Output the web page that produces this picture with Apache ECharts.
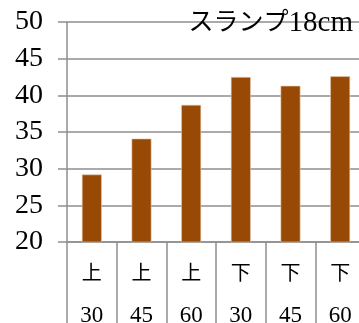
<!DOCTYPE html>
<html>
<head>
<meta charset="utf-8">
<script src="https://cdn.jsdelivr.net/npm/echarts@6/dist/echarts.min.js"></script>
<style>
  html, body { margin: 0; padding: 0; background: #fff; }
  #chart { width: 359px; height: 323px; }
</style>
</head>
<body>
<div id="chart"></div>
<script>
// Slump 18 cm: strength by position (上/下) and age
const positions = ['上', '上', '上', '下', '下', '下'];
const ages = ['30', '45', '60', '30', '45', '60'];
const values = [29.2, 34.1, 38.7, 42.5, 41.3, 42.6];
const yTicks = { min: 20, max: 50, interval: 5 };
const titleWord = 'スランプ';
const titleSlump = '18cm';

const categories = positions.map((p, i) => p + '\n' + ages[i]);
const serif = 'Liberation Serif, DejaVu Serif, Noto Sans CJK JP, serif';
const gridGray = '#8e8e8e';

const chart = echarts.init(document.getElementById('chart'));
chart.setOption({
  animation: false,
  title: {
    text: '{w|' + titleWord + '}{n|' + titleSlump + '}',
    right: 1,
    top: 4,
    textStyle: {
      fontWeight: 'normal',
      rich: {
        w: { fontFamily: serif, fontSize: 25, fontWeight: 'normal', color: '#000' },
        n: { fontFamily: serif, fontSize: 29, fontWeight: 'normal', color: '#000' }
      }
    }
  },
  grid: { left: 67, right: -6, top: 22, bottom: 81, containLabel: false, outerBoundsMode: 'none' },
  xAxis: {
    type: 'category',
    data: categories,
    boundaryGap: true,
    axisLine: { show: true, lineStyle: { color: gridGray, width: 1.5 } },
    axisTick: { show: true, length: 90, interval: 0, lineStyle: { color: gridGray, width: 1.5 } },
    axisLabel: {
      interval: 0,
      margin: 12,
      fontFamily: serif,
      color: '#000',
      formatter: (v) => {
        const [p, a] = v.split('\n');
        return '{p|' + p + '}\n{a|' + a + '}';
      },
      rich: {
        p: { fontSize: 20, lineHeight: 41, fontFamily: serif, color: '#000' },
        a: { fontSize: 23, lineHeight: 41, fontFamily: serif, color: '#000' }
      }
    }
  },
  yAxis: {
    type: 'value',
    min: yTicks.min,
    max: yTicks.max,
    interval: yTicks.interval,
    axisLine: { show: true, lineStyle: { color: gridGray, width: 1.5 } },
    axisTick: { show: true, length: 9, lineStyle: { color: gridGray, width: 1.5 } },
    splitLine: { show: true, lineStyle: { color: gridGray, width: 1.5 } },
    axisLabel: { fontFamily: serif, fontSize: 28, color: '#000', margin: 24 }
  },
  series: [{
    type: 'bar',
    data: values,
    barWidth: '40%',
    itemStyle: { color: '#984906', borderColor: '#e9c9a8', borderWidth: 0.6 }
  }]
});
</script>
</body>
</html>
